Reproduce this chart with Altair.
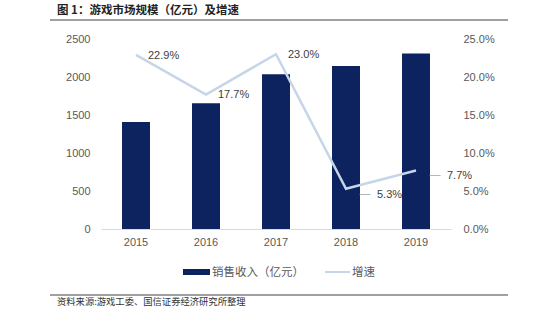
import altair as alt
import pandas as pd

years = ["2015", "2016", "2017", "2018", "2019"]
revenue = [1407, 1656, 2036, 2144, 2309]
growth = [0.229, 0.177, 0.230, 0.053, 0.077]
growth_labels = ["22.9%", "17.7%", "23.0%", "5.3%", "7.7%"]
label_style = ["near", "near", "near", "leader", "leader"]

title_text = ["图 1：游戏市场规模（亿元）及增速"]
source_text = ["资料来源:游戏工委、国信证券经济研究所整理"]
legend_names = ["销售收入（亿元）", "增速"]

df = pd.DataFrame({"year": years, "revenue": revenue, "growth": growth,
                   "label": growth_labels, "style": label_style})

NAVY = "#0c2360"
LIGHT = "#c6d5e7"
GREY = "#595959"
LAB_FONT = "Liberation Sans"
CJK = "Noto Sans CJK SC"

x = alt.X("year:N", sort=years,
          scale=alt.Scale(paddingInner=0.6, paddingOuter=0.3),
          axis=alt.Axis(title=None, labelAngle=0, ticks=False, domainColor="#d9d9d9",
                        domainWidth=1, labelColor=GREY, labelFont=LAB_FONT,
                        labelFontSize=11, labelPadding=7, grid=False))

y_left = alt.Y("revenue:Q", scale=alt.Scale(domain=[0, 2500], nice=False),
               axis=alt.Axis(title=None, values=[0, 500, 1000, 1500, 2000, 2500],
                             format="d",
                             domain=False, ticks=False, grid=False, labelPadding=11,
                             labelColor=GREY, labelFont=LAB_FONT, labelFontSize=11))

y_right = alt.Y("growth:Q", scale=alt.Scale(domain=[0, 0.25], nice=False),
                axis=alt.Axis(title=None, orient="right", format=".1%",
                              values=[0, 0.05, 0.10, 0.15, 0.20, 0.25],
                              domain=False, ticks=False, grid=False, labelPadding=12,
                              labelColor=GREY, labelFont=LAB_FONT, labelFontSize=11))

base = alt.Chart(df)

bars = base.mark_bar(color=NAVY).encode(x=x, y=y_left)

line = base.mark_line(color=LIGHT, strokeWidth=2.5).encode(x=x, y=y_right)

near_labels = base.transform_filter(alt.datum.style == "near").mark_text(
    align="left", baseline="middle", dx=12, dy=1, font=LAB_FONT, fontSize=11, color="#404040"
).encode(x=x, y=y_right, text="label:N")

far_labels = base.transform_filter(alt.datum.style == "leader").mark_text(
    align="left", baseline="middle", dx=31, dy=6, font=LAB_FONT, fontSize=11, color="#404040"
).encode(x=x, y=y_right, text="label:N")

leaders = base.transform_filter(alt.datum.style == "leader").mark_text(
    align="center", baseline="middle", dx=19, dy=5, font=LAB_FONT, fontSize=11, color="#a6a6a6"
).encode(x=x, y=y_right, text=alt.value("—"))

growth_layer = alt.layer(line, near_labels, far_labels, leaders)

title_df = pd.DataFrame({"t": title_text})
source_df = pd.DataFrame({"t": source_text})
leg_df1 = pd.DataFrame({"t": [legend_names[0]]})
leg_df2 = pd.DataFrame({"t": [legend_names[1]]})

title = alt.Chart(title_df).mark_text(
    align="left", baseline="middle", font=CJK, fontSize=11.5, fontWeight="bold", color="#222222"
).encode(x=alt.value(-44), y=alt.value(-28), text="t:N")

source = alt.Chart(source_df).mark_text(
    align="left", baseline="middle", font=CJK, fontSize=9.3, color="#333333"
).encode(x=alt.value(-44), y=alt.value(263), text="t:N")

header_rule = alt.Chart(title_df).mark_rule(color="#808080", strokeWidth=1.5).encode(
    x=alt.value(-51), x2=alt.value(407), y=alt.value(-19))
footer_rule = alt.Chart(source_df).mark_rule(color="#808080", strokeWidth=1.5).encode(
    x=alt.value(-51), x2=alt.value(407), y=alt.value(256))

leg_rect = alt.Chart(leg_df1).mark_rect(color=NAVY).encode(
    x=alt.value(82), x2=alt.value(109), y=alt.value(230), y2=alt.value(236))
leg_text1 = alt.Chart(leg_df1).mark_text(
    align="left", baseline="middle", font=CJK, fontSize=11.5, color=GREY
).encode(x=alt.value(111), y=alt.value(233.5), text="t:N")
leg_line = alt.Chart(leg_df2).mark_rule(color=LIGHT, strokeWidth=2).encode(
    x=alt.value(224), x2=alt.value(249), y=alt.value(233))
leg_text2 = alt.Chart(leg_df2).mark_text(
    align="left", baseline="middle", font=CJK, fontSize=11.5, color=GREY
).encode(x=alt.value(251), y=alt.value(233.5), text="t:N")

chart = alt.layer(
    bars, growth_layer, title, source, header_rule, footer_rule,
    leg_rect, leg_text1, leg_line, leg_text2
).resolve_scale(y="independent").properties(
    width=350, height=190, autosize="none",
    padding={"left": 101, "top": 39, "right": 99, "bottom": 92},
    background="white"
).configure_view(stroke=None)

chart.save("out.html", embed_options={"renderer": "svg", "actions": False})
